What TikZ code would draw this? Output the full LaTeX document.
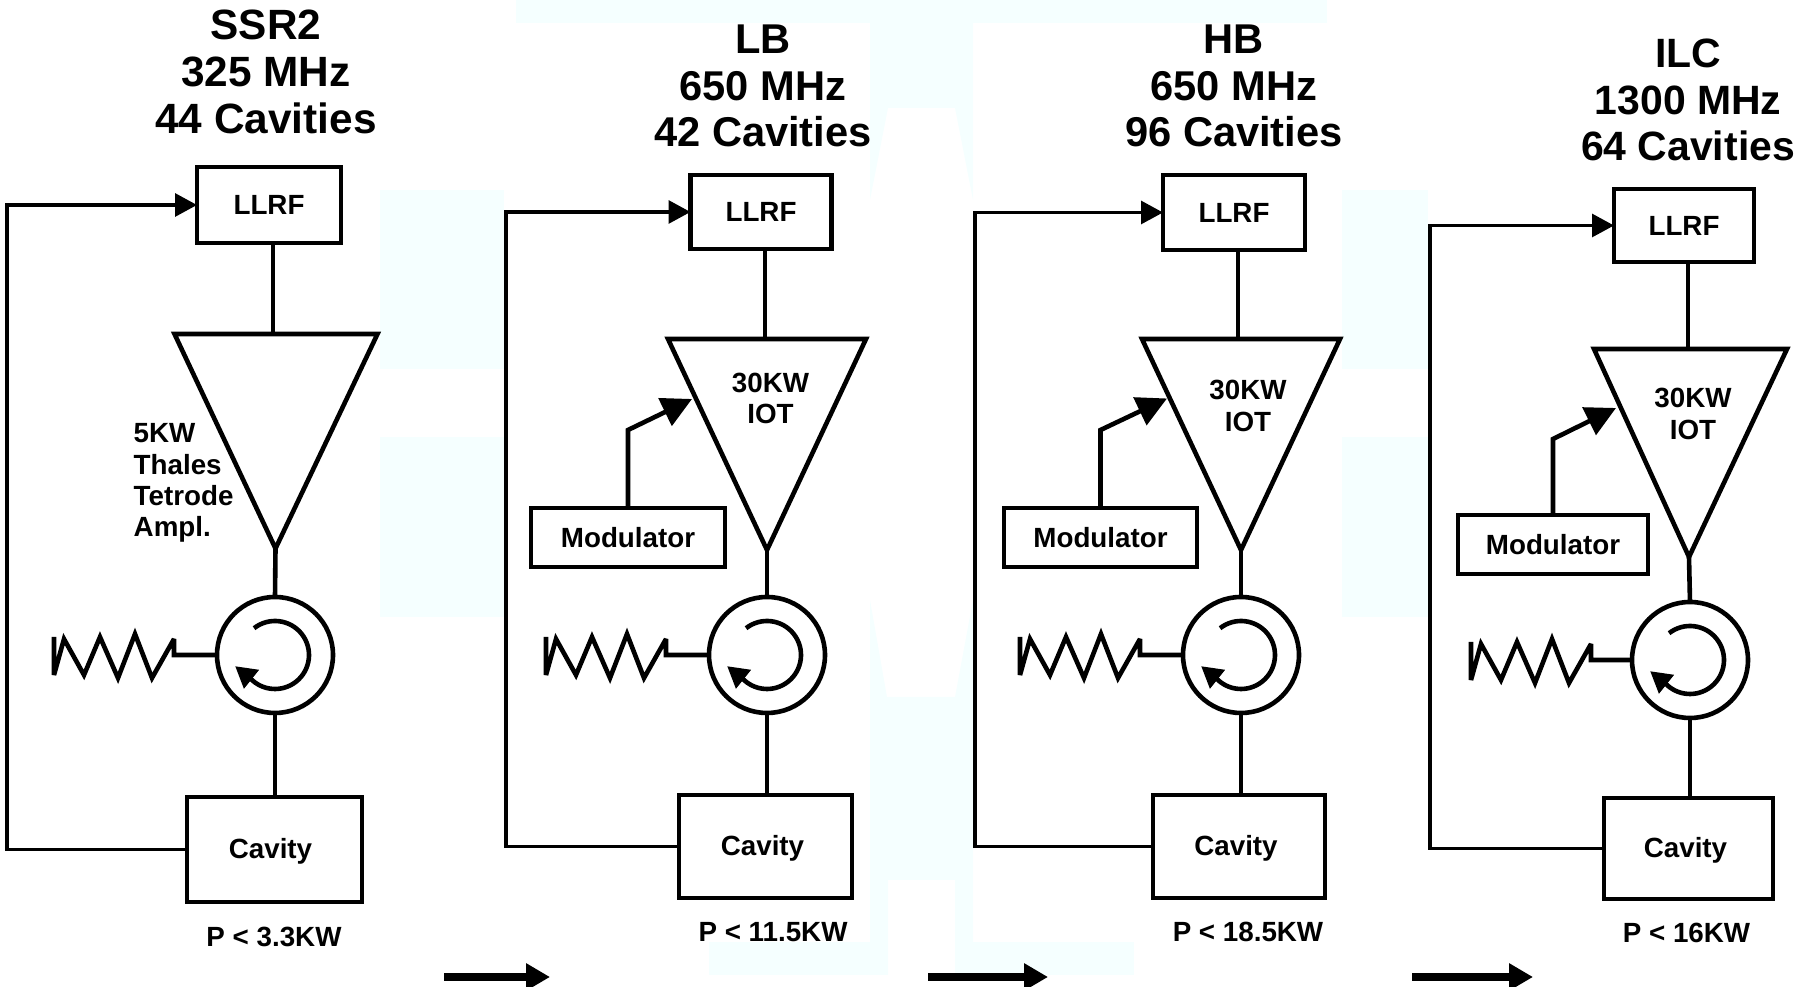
\documentclass[tikz,border=0pt]{standalone}
\usepackage{fontspec}
\setmainfont{Liberation Sans}
\usetikzlibrary{arrows.meta}
\definecolor{wmark}{HTML}{F5FFFF}
\tikzset{
    box/.style={draw,rectangle,line width=0.048cm,inner sep=0pt,outer sep=0pt,font=\fontsize{7.9}{8.9}\selectfont\bfseries},
    circu/.style={draw,circle,line width=0.046cm,minimum size=1.16cm,inner sep=0pt,outer sep=0pt},
    wire/.style={line width=0.046cm},
    coil/.style={wire,miter limit=3},
    feed/.style={line width=0.032cm,-{Triangle[length=0.22cm,width=0.23cm]}},
    modarrow/.style={wire,-{Triangle[length=0.3cm,width=0.3cm]}},
    turn/.style={wire,-{Triangle[length=0.21cm,width=0.23cm]}},
    bigarrow/.style={line width=0.085cm,-{Triangle[length=0.24cm,width=0.26cm]}},
    title/.style={align=center,font=\fontsize{#1}{13.3}\selectfont\bfseries},
    lab/.style={align=center,inner sep=0pt,font=\fontsize{7.9}{8.9}\selectfont\bfseries}
}
\begin{document}
\begin{tikzpicture}
        \useasboundingbox (0,0) rectangle (18.06,9.87);
        \fill[wmark] (5.16,9.87) rectangle (13.27,9.64);
        \fill[wmark] (8.70,9.64) -- (9.73,9.64) -- (9.73,7.87) -- (9.55,8.79) -- (8.88,8.79) -- (8.70,7.87) -- cycle;
        \fill[wmark] (8.70,3.87) -- (8.87,2.90) -- (9.55,2.90) -- (9.73,3.87) -- (9.73,0.12) -- (9.55,0.12) -- (9.55,1.07) -- (8.88,1.07) -- (8.88,0.12) -- (8.70,0.12) -- cycle;
        \fill[wmark] (7.09,0.45) rectangle (8.88,0.12);
        \fill[wmark] (9.55,0.45) rectangle (11.34,0.12);
        \fill[wmark] (3.80,7.97) rectangle (5.04,6.18);
        \fill[wmark] (3.80,5.50) rectangle (5.04,3.70);
        \fill[wmark] (13.42,7.97) rectangle (14.28,6.18);
        \fill[wmark] (13.42,5.50) rectangle (14.28,3.70);

        \node[title=12.05] (titlea) at (2.66,9.15) {SSR2\\325 MHz\\44 Cavities};
        \node[box,minimum width=1.44cm,minimum height=0.76cm] (llrfa) at (2.69,7.82) {LLRF};
        \coordinate (ina) at (2.73,6.53);
        \coordinate (ampla) at (1.745,6.53);
        \coordinate (ampra) at (3.775,6.53);
        \coordinate (ampba) at (2.755,4.385);
        \draw[wire] (ampla) -- (ampra) -- (ampba) -- cycle;
        \draw[wire] (ina |- llrfa.south) -- (ina);
        \node[lab,align=left,anchor=west] (ampa) at (1.33,5.04) {5KW\\Thales\\Tetrode\\Ampl.};
        \node[circu] (circa) at (2.75,3.32) {};
        \draw[wire] (ampba) -- (circa.north);
        \draw[turn] (circa.center) ++(128:0.34) arc(128:-137:0.34) -- ++(-0.15,0.12);
        \draw[coil] (circa.west) -- ++(-0.43,0) -- ++(0,0.16) -- ++(-0.22,-0.39) -- ++(-0.17,0.44) -- ++(-0.17,-0.44) -- ++(-0.18,0.41) -- ++(-0.16,-0.38) -- ++(-0.20,0.36) -- ++(-0.10,-0.36) -- ++(0,0.38);
        \node[box,minimum width=1.75cm,minimum height=1.05cm] (cava) at (2.745,1.375) {};
        \node[lab] (cavtexta) at (2.705,1.36) {Cavity};
        \draw[wire] (circa.south) -- (circa.south |- cava.north);
        \coordinate (fba) at (0.07,7.82);
        \draw[feed] (cava.west) -| (fba) -- (llrfa.west);
        \node[lab] (pa) at (2.74,0.50) {P < 3.3KW};

        \node[title=11.85] (titleb) at (7.63,9.01) {LB\\650 MHz\\42 Cavities};
        \node[box,minimum width=1.41cm,minimum height=0.74cm] (llrfb) at (7.61,7.75) {LLRF};
        \coordinate (inb) at (7.65,6.48);
        \coordinate (amplb) at (6.68,6.48);
        \coordinate (amprb) at (8.66,6.48);
        \coordinate (ampbb) at (7.67,4.37);
        \draw[wire] (amplb) -- (amprb) -- (ampbb) -- cycle;
        \draw[wire] (inb |- llrfb.south) -- (inb);
        \node[lab] (ampb) at (7.705,5.885) {30KW\\IOT};
        \node[box,minimum width=1.94cm,minimum height=0.59cm] (modb) at (6.28,4.495) {Modulator};
        \coordinate (bendb) at (6.28,5.57);
        \coordinate (tipb) at (6.92,5.88);
        \draw[modarrow] (modb.north) -- (bendb) -- (tipb);
        \node[circu] (circb) at (7.67,3.32) {};
        \draw[wire] (ampbb) -- (circb.north);
        \draw[turn] (circb.center) ++(128:0.34) arc(128:-137:0.34) -- ++(-0.15,0.12);
        \draw[coil] (circb.west) -- ++(-0.43,0) -- ++(0,0.16) -- ++(-0.22,-0.39) -- ++(-0.17,0.44) -- ++(-0.17,-0.44) -- ++(-0.18,0.41) -- ++(-0.16,-0.38) -- ++(-0.20,0.36) -- ++(-0.10,-0.36) -- ++(0,0.38);
        \node[box,minimum width=1.73cm,minimum height=1.03cm] (cavb) at (7.655,1.405) {};
        \node[lab] (cavtextb) at (7.625,1.39) {Cavity};
        \draw[wire] (circb.south) -- (circb.south |- cavb.north);
        \coordinate (fbb) at (5.06,7.75);
        \draw[feed] (cavb.west) -| (fbb) -- (llrfb.west);
        \node[lab] (pb) at (7.73,0.55) {P < 11.5KW};

        \node[title=11.85] (titlec) at (12.34,9.01) {HB\\650 MHz\\96 Cavities};
        \node[box,minimum width=1.42cm,minimum height=0.75cm] (llrfc) at (12.34,7.745) {LLRF};
        \coordinate (inc) at (12.38,6.48);
        \coordinate (amplc) at (11.42,6.48);
        \coordinate (amprc) at (13.40,6.48);
        \coordinate (ampbc) at (12.41,4.37);
        \draw[wire] (amplc) -- (amprc) -- (ampbc) -- cycle;
        \draw[wire] (inc |- llrfc.south) -- (inc);
        \node[lab] (ampc) at (12.48,5.81) {30KW\\IOT};
        \node[box,minimum width=1.93cm,minimum height=0.59cm] (modc) at (11.005,4.495) {Modulator};
        \coordinate (bendc) at (11.005,5.57);
        \coordinate (tipc) at (11.67,5.885);
        \draw[modarrow] (modc.north) -- (bendc) -- (tipc);
        \node[circu] (circc) at (12.41,3.32) {};
        \draw[wire] (ampbc) -- (circc.north);
        \draw[turn] (circc.center) ++(128:0.34) arc(128:-137:0.34) -- ++(-0.15,0.12);
        \draw[coil] (circc.west) -- ++(-0.43,0) -- ++(0,0.16) -- ++(-0.22,-0.39) -- ++(-0.17,0.44) -- ++(-0.17,-0.44) -- ++(-0.18,0.41) -- ++(-0.16,-0.38) -- ++(-0.20,0.36) -- ++(-0.10,-0.36) -- ++(0,0.38);
        \node[box,minimum width=1.72cm,minimum height=1.03cm] (cavc) at (12.39,1.405) {};
        \node[lab] (cavtextc) at (12.36,1.39) {Cavity};
        \draw[wire] (circc.south) -- (circc.south |- cavc.north);
        \coordinate (fbc) at (9.75,7.745);
        \draw[feed] (cavc.west) -| (fbc) -- (llrfc.west);
        \node[lab] (pc) at (12.48,0.55) {P < 18.5KW};

        \node[title=11.65] (titled) at (16.88,8.87) {ILC\\1300 MHz\\64 Cavities};
        \node[box,minimum width=1.40cm,minimum height=0.73cm] (llrfd) at (16.84,7.615) {LLRF};
        \coordinate (ind) at (16.88,6.38);
        \coordinate (ampld) at (15.94,6.38);
        \coordinate (amprd) at (17.87,6.38);
        \coordinate (ampbd) at (16.89,4.30);
        \draw[wire] (ampld) -- (amprd) -- (ampbd) -- cycle;
        \draw[wire] (ind |- llrfd.south) -- (ind);
        \node[lab] (ampd) at (16.93,5.73) {30KW\\IOT};
        \node[box,minimum width=1.90cm,minimum height=0.59cm] (modd) at (15.53,4.425) {Modulator};
        \coordinate (bendd) at (15.53,5.48);
        \coordinate (tipd) at (16.16,5.79);
        \draw[modarrow] (modd.north) -- (bendd) -- (tipd);
        \node[circu] (circd) at (16.90,3.27) {};
        \draw[wire] (ampbd) -- (circd.north);
        \draw[turn] (circd.center) ++(128:0.34) arc(128:-137:0.34) -- ++(-0.15,0.12);
        \draw[coil] (circd.west) -- ++(-0.41,0) -- ++(0,0.16) -- ++(-0.22,-0.39) -- ++(-0.17,0.44) -- ++(-0.17,-0.44) -- ++(-0.18,0.41) -- ++(-0.16,-0.38) -- ++(-0.20,0.36) -- ++(-0.10,-0.36) -- ++(0,0.38);
        \node[box,minimum width=1.69cm,minimum height=1.01cm] (cavd) at (16.885,1.385) {};
        \node[lab] (cavtextd) at (16.855,1.37) {Cavity};
        \draw[wire] (circd.south) -- (circd.south |- cavd.north);
        \coordinate (fbd) at (14.30,7.615);
        \draw[feed] (cavd.west) -| (fbd) -- (llrfd.west);
        \node[lab] (pd) at (16.865,0.54) {P < 16KW};

        \coordinate (arrla) at (4.44,0.10);
        \coordinate (arrra) at (5.50,0.10);
        \coordinate (arrlb) at (9.28,0.10);
        \coordinate (arrrb) at (10.48,0.10);
        \coordinate (arrlc) at (14.12,0.10);
        \coordinate (arrrc) at (15.33,0.10);
        \draw[bigarrow] (arrla) -- (arrra);
        \draw[bigarrow] (arrlb) -- (arrrb);
        \draw[bigarrow] (arrlc) -- (arrrc);
    \end{tikzpicture}
\end{document}
